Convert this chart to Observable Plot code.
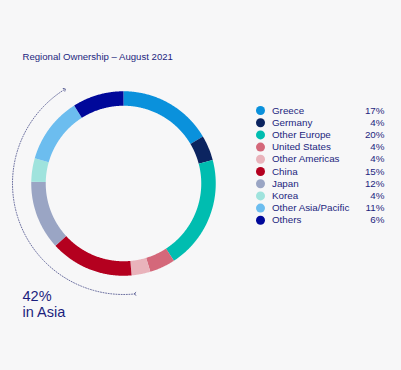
<!DOCTYPE html>
<html>
<head>
<meta charset="utf-8">
<script src="https://cdn.jsdelivr.net/npm/d3@7"></script>
<script src="https://cdn.jsdelivr.net/npm/@observablehq/plot@0.6"></script>
<style>
  html, body { margin: 0; padding: 0; background: #f7f7f8; }
  #chart { width: 401px; height: 370px; }
  svg { display: block; }
</style>
</head>
<body>
<div id="chart"></div>
<script>
const title = "Regional Ownership – August 2021";
const regions = ["Greece", "Germany", "Other Europe", "United States", "Other Americas", "China", "Japan", "Korea", "Other Asia/Pacific", "Others"];
// legend labels as printed
const shareLabels = ["17%", "4%", "20%", "4%", "4%", "15%", "12%", "4%", "11%", "6%"];
// slice sizes as drawn in the ring (percent of the circle)
const sliceShares = [16.5, 4.4, 19.9, 4.5, 3.3, 14.6, 12.1, 4.1, 11.6, 9.0];
const colors = ["#0a91dc", "#0b2460", "#00bdb0", "#d4687a", "#e9b3bb", "#b4001f", "#9aa5c4", "#9fe3dd", "#6cbdef", "#00089a"];
const callout = ["42%", "in Asia"];

const ink = "#1c1f7e";
const cx = 123, cy = 183, r = 85, ringW = 14.5, arrowR = 111;

// Donut slices as thick arc strokes sampled along their angle ranges
const total = d3.sum(sliceShares);
let acc = 0;
const arcPts = [];
regions.forEach((name, i) => {
  const a0 = acc / total * 360;
  acc += sliceShares[i];
  const a1 = acc / total * 360;
  const n = Math.max(2, Math.ceil((a1 - a0) * 2));
  for (let k = 0; k <= n; k++) {
    const t = (a0 + (a1 - a0) * k / n) * Math.PI / 180;
    arcPts.push({name, x: cx + r * Math.sin(t), y: cy - r * Math.cos(t)});
  }
});

// Asia callout arc
const arrowPts = d3.range(0, 121).map(k => {
  const t = (174 + (328 - 174) * k / 120) * Math.PI / 180;
  return {x: cx + arrowR * Math.sin(t), y: cy - arrowR * Math.cos(t)};
});

const legend = regions.map((name, i) => ({name, share: shareLabels[i], i}));
const ly = i => 110 + i * 12.2;

const plot = Plot.plot({
  width: 401,
  height: 370,
  margin: 0,
  style: {background: "#f7f7f8", fontFamily: "Liberation Sans, Arial, sans-serif"},
  x: {domain: [0, 401], range: [0, 401], axis: null},
  y: {domain: [0, 370], range: [0, 370], axis: null},
  color: {domain: regions, range: colors},
  marks: [
    Plot.text([title], {x: 22, y: 56, text: d => d, textAnchor: "start", fill: ink, fontSize: 9.6}),
    Plot.line(arcPts, {x: "x", y: "y", z: "name", stroke: "name", strokeWidth: ringW, strokeLinecap: "butt", strokeLinejoin: "round"}),
    Plot.line(arrowPts, {x: "x", y: "y", stroke: "#4a4f8a", strokeWidth: 0.8, strokeDasharray: "1,1.6", markerStart: "arrow", markerEnd: "arrow"}),
    Plot.text(callout, {x: 22, y: (d, i) => 296 + i * 16, text: d => d, textAnchor: "start", fill: ink, fontSize: 14.5}),
    Plot.dot(legend, {x: 260, y: d => ly(d.i), fill: "name", r: 4.5}),
    Plot.text(legend, {x: 271.5, y: d => ly(d.i), text: "name", textAnchor: "start", fill: ink, fontSize: 9.8}),
    Plot.text(legend, {x: 384, y: d => ly(d.i), text: "share", textAnchor: "end", fill: ink, fontSize: 9.8})
  ]
});
document.getElementById("chart").append(plot);
</script>
</body>
</html>
